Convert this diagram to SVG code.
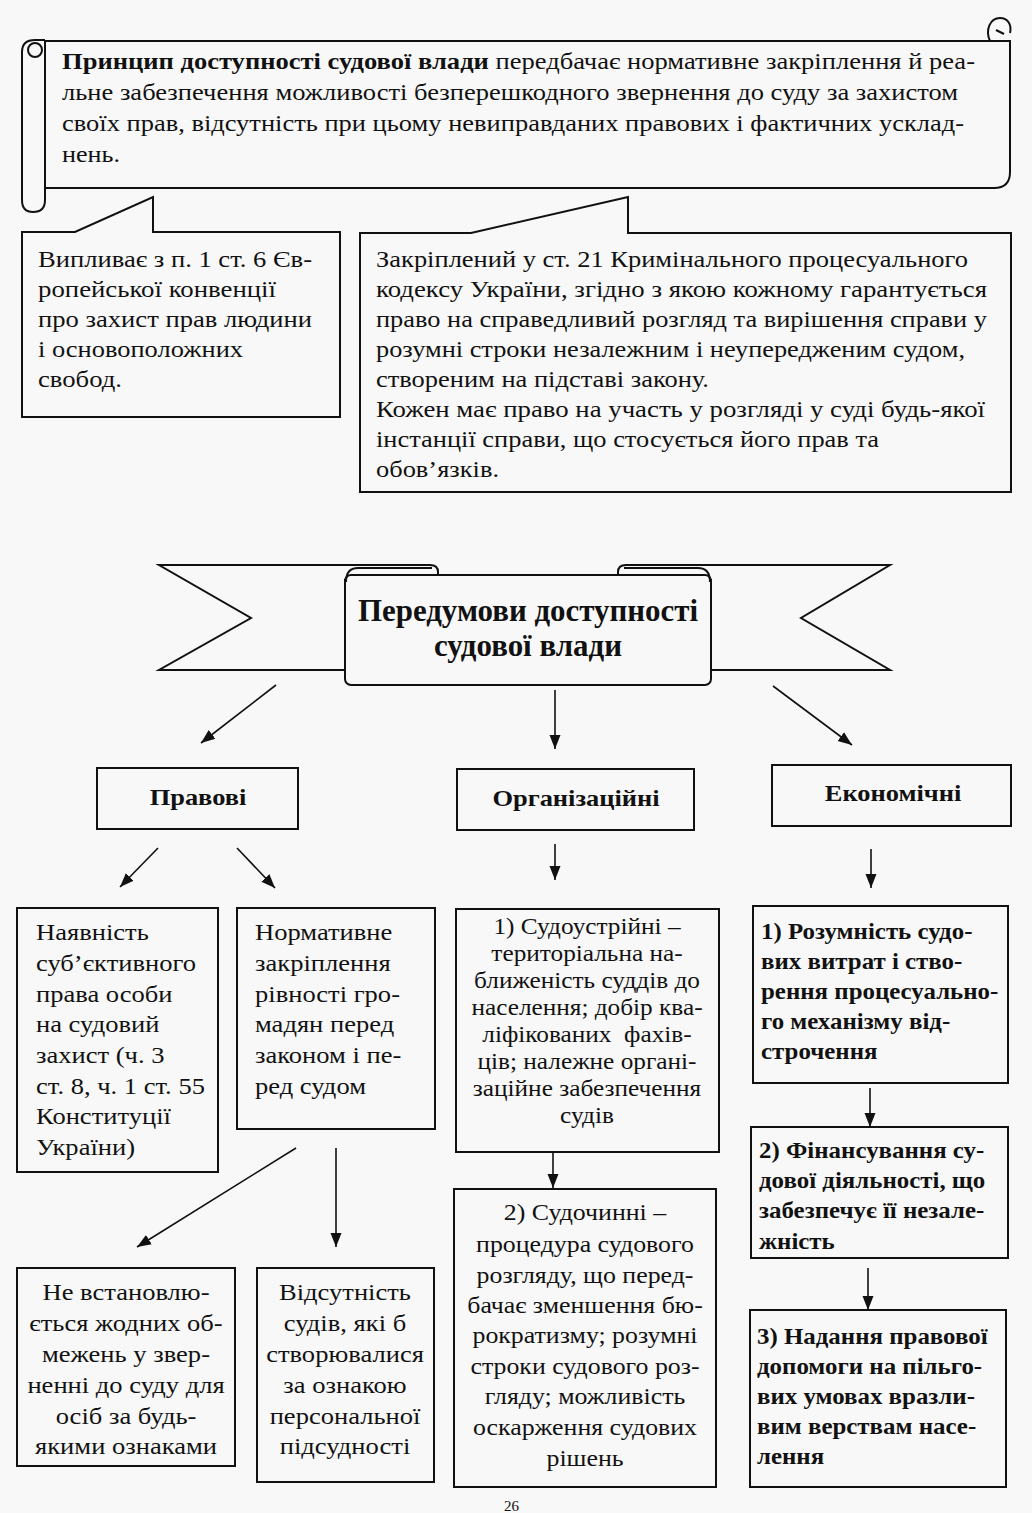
<svg xmlns="http://www.w3.org/2000/svg" width="1032" height="1513" viewBox="0 0 1032 1513">
<style>
.ln{fill:none;stroke:#111;stroke-width:2;stroke-linejoin:round}
.box{fill:#f8f8f8;stroke:#111;stroke-width:2}
.t{font-family:"Liberation Serif","Times New Roman",serif;font-size:23px;fill:#111}
.m{font-size:23.5px}
.b{font-weight:bold}
.c{text-anchor:middle}
.ar{fill:none;stroke:#111;stroke-width:1.6}
</style>
<defs>
<marker id="ah" markerUnits="userSpaceOnUse" markerWidth="16" markerHeight="14" refX="14" refY="7" orient="auto">
<path d="M0,1.5 L14,7 L0,12.5 Z" fill="#111"/>
</marker>
</defs>
<rect x="0" y="0" width="1032" height="1513" fill="#f8f8f8"/>

<g id="scroll">
<path class="box" d="M45,41 H1010 V172 Q1010,188 994,188 H45 Z"/>
<path class="ln" d="M45,188 V200 Q45,212 33,212 Q22,212 22,200 V52 Q22,40 35,40 H45"/>
<circle class="ln" cx="35" cy="50" r="7"/>
<path class="ln" d="M990,41 C985,30 990,18 1000,18 C1008,18 1012,25 1010,33"/>
<path class="ln" d="M996,30 L1004,34"/>
<text class="t" x="62" y="69" textLength="913" lengthAdjust="spacingAndGlyphs"><tspan class="b">Принцип доступності судової влади</tspan> передбачає нормативне закріплення й реа-</text>
<text class="t" x="62" y="100" textLength="896" lengthAdjust="spacingAndGlyphs">льне забезпечення можливості безперешкодного звернення до суду за захистом</text>
<text class="t" x="62" y="131" textLength="902" lengthAdjust="spacingAndGlyphs">своїх прав, відсутність при цьому невиправданих правових і фактичних усклад-</text>
<text class="t" x="62" y="162" textLength="58" lengthAdjust="spacingAndGlyphs">нень.</text>
</g>

<g id="callout-left">
<path class="box" d="M22,232 H75 L153,197 V232 H340 V417 H22 Z"/>
<text class="t" x="38" y="267" textLength="274" lengthAdjust="spacingAndGlyphs">Випливає з п. 1 ст. 6 Єв-</text>
<text class="t" x="38" y="297" textLength="238" lengthAdjust="spacingAndGlyphs">ропейської конвенції</text>
<text class="t" x="38" y="327" textLength="274" lengthAdjust="spacingAndGlyphs">про захист прав людини</text>
<text class="t" x="38" y="357" textLength="205" lengthAdjust="spacingAndGlyphs">і основоположних</text>
<text class="t" x="38" y="387" textLength="84" lengthAdjust="spacingAndGlyphs">свобод.</text>
</g>

<g id="callout-right">
<path class="box" d="M360,233 H471 L628,197 V233 H1011 V492 H360 Z"/>
<text class="t" x="376" y="267" textLength="592" lengthAdjust="spacingAndGlyphs">Закріплений у ст. 21 Кримінального процесуального</text>
<text class="t" x="376" y="297" textLength="611" lengthAdjust="spacingAndGlyphs">кодексу України, згідно з якою кожному гарантується</text>
<text class="t" x="376" y="327" textLength="611" lengthAdjust="spacingAndGlyphs">право на справедливий розгляд та вирішення справи у</text>
<text class="t" x="376" y="357" textLength="589" lengthAdjust="spacingAndGlyphs">розумні строки незалежним і неупередженим судом,</text>
<text class="t" x="376" y="387" textLength="333" lengthAdjust="spacingAndGlyphs">створеним на підставі закону.</text>
<text class="t" x="376" y="417" textLength="609" lengthAdjust="spacingAndGlyphs">Кожен має право на участь у розгляді у суді будь-якої</text>
<text class="t" x="376" y="447" textLength="503" lengthAdjust="spacingAndGlyphs">інстанції справи, що стосується його прав та</text>
<text class="t" x="376" y="477" textLength="123" lengthAdjust="spacingAndGlyphs">обов’язків.</text>
</g>

<g id="banner">
<path class="box" d="M159,565 H430 Q438,565 438,572 V580 H345 V670 H159 L251,618 Z"/>
<path class="box" d="M890,565 H626 Q618,565 618,572 V580 H711 V670 H890 L801,618 Z"/>
<rect class="box" x="345" y="575" width="366" height="110" rx="6"/>
<path class="ln" d="M346,582 Q346,568 358,568 H432"/>
<path class="ln" d="M710,582 Q710,568 698,568 H624"/>
<text class="t b c" x="528" y="621" style="font-size:32px" textLength="340" lengthAdjust="spacingAndGlyphs">Передумови доступності</text>
<text class="t b c" x="528" y="656" style="font-size:32px" textLength="188" lengthAdjust="spacingAndGlyphs">судової влади</text>
</g>

<g id="pravovi">
<rect class="box" x="97" y="768" width="201" height="61"/>
<g transform="translate(198 0) scale(1.15 1)"><text class="t b c" x="0" y="805">Правові</text></g>
</g>
<g id="organizatsiini">
<rect class="box" x="457" y="769" width="237" height="61"/>
<g transform="translate(576 0) scale(1.15 1)"><text class="t b c" x="0" y="806">Організаційні</text></g>
</g>
<g id="ekonomichni">
<rect class="box" x="772" y="765" width="239" height="61"/>
<g transform="translate(893 0) scale(1.15 1)"><text class="t b c" x="0" y="801">Економічні</text></g>
</g>

<g id="nayavnist">
<rect class="box" x="17" y="908" width="201" height="264"/>
<g transform="translate(36 0) scale(1.13 1)">
<text class="t m" x="0" y="940">Наявність</text>
<text class="t m" x="0" y="971">суб’єктивного</text>
<text class="t m" x="0" y="1002">права особи</text>
<text class="t m" x="0" y="1032">на судовий</text>
<text class="t m" x="0" y="1063">захист (ч. 3</text>
<text class="t m" x="0" y="1094">ст. 8, ч. 1 ст. 55</text>
<text class="t m" x="0" y="1124">Конституції</text>
<text class="t m" x="0" y="1155">України)</text>
</g>
</g>

<g id="normatyvne">
<rect class="box" x="237" y="908" width="198" height="221"/>
<g transform="translate(255 0) scale(1.13 1)">
<text class="t m" x="0" y="940">Нормативне</text>
<text class="t m" x="0" y="971">закріплення</text>
<text class="t m" x="0" y="1002">рівності гро-</text>
<text class="t m" x="0" y="1032">мадян перед</text>
<text class="t m" x="0" y="1063">законом і пе-</text>
<text class="t m" x="0" y="1094">ред судом</text>
</g>
</g>

<g id="ne-vstanovliuietsia">
<rect class="box" x="17" y="1268" width="218" height="198"/>
<g transform="translate(126 0) scale(1.13 1)">
<text class="t m c" x="0" y="1300">Не встановлю-</text>
<text class="t m c" x="0" y="1331">ється жодних об-</text>
<text class="t m c" x="0" y="1362">межень у звер-</text>
<text class="t m c" x="0" y="1393">ненні до суду для</text>
<text class="t m c" x="0" y="1424">осіб за будь-</text>
<text class="t m c" x="0" y="1454">якими ознаками</text>
</g>
</g>

<g id="vidsutnist">
<rect class="box" x="257" y="1268" width="177" height="214"/>
<g transform="translate(345 0) scale(1.13 1)">
<text class="t m c" x="0" y="1300">Відсутність</text>
<text class="t m c" x="0" y="1331">судів, які б</text>
<text class="t m c" x="0" y="1362">створювалися</text>
<text class="t m c" x="0" y="1393">за ознакою</text>
<text class="t m c" x="0" y="1424">персональної</text>
<text class="t m c" x="0" y="1454">підсудності</text>
</g>
</g>

<g id="sudoustriini">
<rect class="box" x="456" y="909" width="263" height="243"/>
<g transform="translate(587 0) scale(1.1 1)">
<text class="t c" x="0" y="934">1) Судоустрійні –</text>
<text class="t c" x="0" y="961">територіальна на-</text>
<text class="t c" x="0" y="988">ближеність суддів до</text>
<text class="t c" x="0" y="1015">населення; добір ква-</text>
<text class="t c" x="0" y="1042" xml:space="preserve">ліфікованих  фахів-</text>
<text class="t c" x="0" y="1069">ців; належне органі-</text>
<text class="t c" x="0" y="1096">заційне забезпечення</text>
<text class="t c" x="0" y="1123">судів</text>
</g>
</g>

<g id="sudochynni">
<rect class="box" x="454" y="1189" width="262" height="298"/>
<g transform="translate(585 0) scale(1.1 1)">
<text class="t m c" x="0" y="1220">2) Судочинні –</text>
<text class="t m c" x="0" y="1252">процедура судового</text>
<text class="t m c" x="0" y="1283">розгляду, що перед-</text>
<text class="t m c" x="0" y="1313">бачає зменшення бю-</text>
<text class="t m c" x="0" y="1343">рократизму; розумні</text>
<text class="t m c" x="0" y="1374">строки судового роз-</text>
<text class="t m c" x="0" y="1404">гляду; можливість</text>
<text class="t m c" x="0" y="1435">оскарження судових</text>
<text class="t m c" x="0" y="1466">рішень</text>
</g>
</g>

<g id="rozumnist">
<rect class="box" x="753" y="906" width="255" height="177"/>
<g transform="translate(761 0) scale(1.06 1)">
<text class="t m b" x="0" y="939">1) Розумність судо-</text>
<text class="t m b" x="0" y="969">вих витрат і ство-</text>
<text class="t m b" x="0" y="999">рення процесуально-</text>
<text class="t m b" x="0" y="1029">го механізму від-</text>
<text class="t m b" x="0" y="1059">строчення</text>
</g>
</g>

<g id="finansuvannia">
<rect class="box" x="751" y="1127" width="257" height="131"/>
<g transform="translate(759 0) scale(1.06 1)">
<text class="t m b" x="0" y="1158">2) Фінансування су-</text>
<text class="t m b" x="0" y="1188">дової діяльності, що</text>
<text class="t m b" x="0" y="1218">забезпечує її незале-</text>
<text class="t m b" x="0" y="1249">жність</text>
</g>
</g>

<g id="nadannia">
<rect class="box" x="750" y="1310" width="256" height="177"/>
<g transform="translate(757 0) scale(1.06 1)">
<text class="t m b" x="0" y="1344">3) Надання правової</text>
<text class="t m b" x="0" y="1374">допомоги на пільго-</text>
<text class="t m b" x="0" y="1404">вих умовах вразли-</text>
<text class="t m b" x="0" y="1434">вим верствам насе-</text>
<text class="t m b" x="0" y="1464">лення</text>
</g>
</g>

<g id="connectors">
<line class="ar" x1="276" y1="685" x2="201" y2="743" marker-end="url(#ah)"/>
<line class="ar" x1="555" y1="690" x2="555" y2="749" marker-end="url(#ah)"/>
<line class="ar" x1="773" y1="686" x2="852" y2="745" marker-end="url(#ah)"/>
<line class="ar" x1="158" y1="848" x2="120" y2="887" marker-end="url(#ah)"/>
<line class="ar" x1="237" y1="848" x2="275" y2="888" marker-end="url(#ah)"/>
<line class="ar" x1="555" y1="844" x2="555" y2="880" marker-end="url(#ah)"/>
<line class="ar" x1="871" y1="849" x2="871" y2="888" marker-end="url(#ah)"/>
<line class="ar" x1="553" y1="1152" x2="553" y2="1188" marker-end="url(#ah)"/>
<line class="ar" x1="870" y1="1088" x2="870" y2="1127" marker-end="url(#ah)"/>
<line class="ar" x1="868" y1="1268" x2="868" y2="1310" marker-end="url(#ah)"/>
<line class="ar" x1="296" y1="1148" x2="137" y2="1247" marker-end="url(#ah)"/>
<line class="ar" x1="336" y1="1148" x2="336" y2="1247" marker-end="url(#ah)"/>
</g>

<text class="t" x="504" y="1511" style="font-size:15px">26</text>
</svg>
